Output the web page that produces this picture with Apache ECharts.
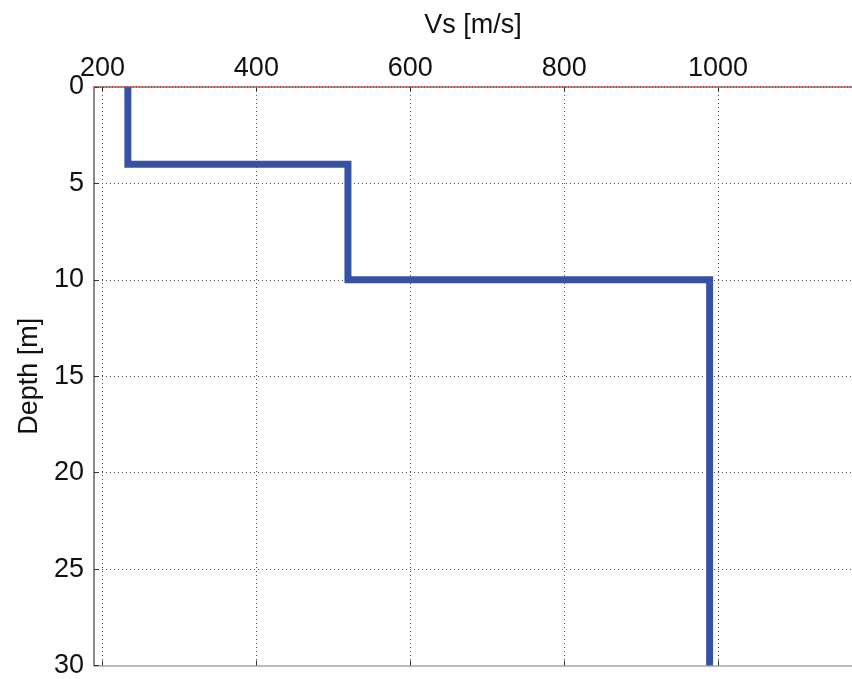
<!DOCTYPE html>
<html>
<head>
<meta charset="utf-8">
<script src="https://cdn.jsdelivr.net/npm/echarts@6/dist/echarts.min.js"></script>
<style>
  html, body { margin: 0; padding: 0; background: #fff; }
  #chart { width: 852px; height: 679px; }
</style>
</head>
<body>
<div id="chart"></div>
<script>
// Vs profile (step)
const vsValues = [233, 233, 519, 519, 989, 989]
const depthValues = [0, 4, 4, 10, 10, 30]
const vsTicks = [200, 400, 600, 800, 1000]

const profile = vsValues.map((v, i) => [v, depthValues[i]])

const chart = echarts.init(document.getElementById('chart'))
const font = 'Liberation Sans, Arial, sans-serif'
const dotted = { color: '#555', type: [1, 3], width: 1 }

chart.setOption({
  animation: false,
  grid: { left: 94, top: 87, right: -1, bottom: 12 },
  xAxis: [{
    type: 'value',
    position: 'top',
    min: 189,
    max: 1174,
    name: 'Vs [m/s]',
    nameLocation: 'middle',
    nameGap: 48,
    nameTextStyle: { fontFamily: font, fontSize: 27, color: '#111' },
    axisLine: { show: true, lineStyle: { color: '#999', width: 2 } },
    axisTick: { show: true, inside: true, length: 4, customValues: vsTicks, lineStyle: { color: '#333' } },
    axisLabel: {
      customValues: vsTicks,
      formatter: v => String(v),
      fontFamily: font, fontSize: 27, color: '#111', margin: 5
    },
    splitLine: { show: true, lineStyle: dotted }
  }, {
    type: 'value',
    position: 'bottom',
    min: 189,
    max: 1174,
    axisLine: { show: true, onZero: false, lineStyle: { color: '#bbb', width: 2 } },
    axisTick: { show: true, inside: true, length: 5, customValues: vsTicks, lineStyle: { color: '#333' } },
    axisLabel: { show: false },
    splitLine: { show: false }
  }],
  yAxis: {
    type: 'value',
    inverse: true,
    min: 0,
    max: 30,
    interval: 5,
    name: 'Depth [m]',
    nameLocation: 'middle',
    nameGap: 51,
    nameRotate: 90,
    nameTextStyle: { fontFamily: font, fontSize: 27, color: '#111' },
    axisLine: { show: true, onZero: false, lineStyle: { color: '#888', width: 2 } },
    axisTick: { show: true, inside: true, length: 5, lineStyle: { color: '#333' } },
    axisLabel: { fontFamily: font, fontSize: 27, color: '#111', margin: 10 },
    splitLine: { show: true, lineStyle: dotted }
  },
  series: [{
    type: 'line',
    data: profile,
    symbol: 'none',
    lineStyle: { color: '#3751a3', width: 7, join: 'miter' },
    markLine: {
      silent: true,
      symbol: 'none',
      label: { show: false },
      lineStyle: { color: '#e33', type: [1, 2], width: 2 },
      data: [{ yAxis: 0 }]
    },
    z: 3
  }]
})
</script>
</body>
</html>
